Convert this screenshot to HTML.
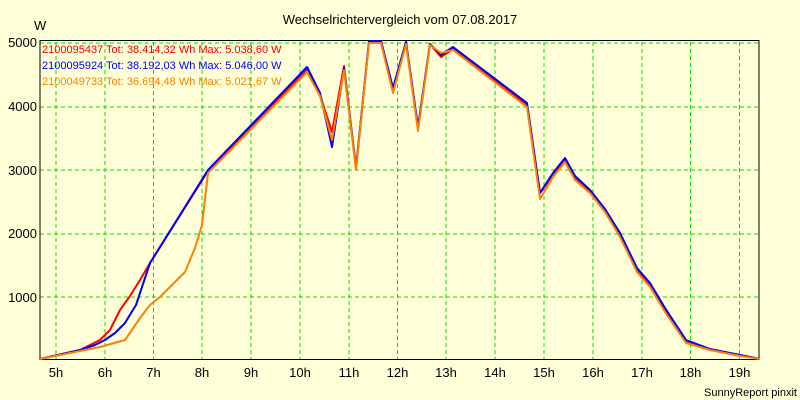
<!DOCTYPE html>
<html><head><meta charset="utf-8"><style>
html,body{margin:0;padding:0;background:#ffffd8;}
svg{display:block;font-family:"Liberation Sans",sans-serif;}
</style></head><body>
<svg width="800" height="400" viewBox="0 0 800 400">
<rect width="800" height="400" fill="#ffffd8"/>
<text x="400" y="24" font-size="13" text-anchor="middle">Wechselrichtervergleich vom 07.08.2017</text>
<text x="34" y="30" font-size="13">W</text>
<g stroke="#00e000" stroke-width="1" stroke-dasharray="4,3">
<line x1="56" y1="42" x2="56" y2="359"/><line x1="105" y1="42" x2="105" y2="359"/><line x1="153.5" y1="42" x2="153.5" y2="359"/><line x1="202" y1="42" x2="202" y2="359"/><line x1="251" y1="42" x2="251" y2="359"/><line x1="300" y1="42" x2="300" y2="359"/><line x1="349" y1="42" x2="349" y2="359"/><line x1="397.5" y1="42" x2="397.5" y2="359"/><line x1="446" y1="42" x2="446" y2="359"/><line x1="495" y1="42" x2="495" y2="359"/><line x1="544" y1="42" x2="544" y2="359"/><line x1="593" y1="42" x2="593" y2="359"/><line x1="642" y1="42" x2="642" y2="359"/><line x1="690.5" y1="42" x2="690.5" y2="359"/><line x1="739.5" y1="42" x2="739.5" y2="359"/>
<line x1="40" y1="43" x2="759" y2="43"/><line x1="40" y1="107" x2="759" y2="107"/><line x1="40" y1="170" x2="759" y2="170"/><line x1="40" y1="234" x2="759" y2="234"/><line x1="40" y1="297" x2="759" y2="297"/>
</g>
<rect x="40" y="40.5" width="719" height="319" fill="none" stroke="#000" stroke-width="1"/>
<g font-size="13" text-anchor="end">
<text x="37" y="47">5000</text><text x="37" y="111">4000</text><text x="37" y="175">3000</text><text x="37" y="238">2000</text><text x="37" y="302">1000</text>
</g>
<g font-size="13" text-anchor="middle">
<text x="56" y="377">5h</text><text x="105" y="377">6h</text><text x="153.5" y="377">7h</text><text x="202" y="377">8h</text><text x="251" y="377">9h</text><text x="300" y="377">10h</text><text x="349" y="377">11h</text><text x="397.5" y="377">12h</text><text x="446" y="377">13h</text><text x="495" y="377">14h</text><text x="544" y="377">15h</text><text x="593" y="377">16h</text><text x="642" y="377">17h</text><text x="690.5" y="377">18h</text><text x="739.5" y="377">19h</text>
</g>
<text x="797" y="396" font-size="11" text-anchor="end">SunnyReport pinxit</text>
<g fill="none" stroke-width="2" stroke-linejoin="round">
<polyline stroke="#ff0000" points="40,359 80,350 100,340 110,330 120,310 130,296 140,280 150,263 208,171 308,69 320,95 332,132 344,66 356,168 369,42 381,42 393,90 406,42 418,128 430,44 441,57 453,49 527,105 540,193 553,175 565,160 575,178 590,192 605,210 620,235 637,270 650,285 665,310 686,342 710,350 740,355 760,359"/>
<polyline stroke="#0000ff" points="40,359 80,350 95,345 105,340 115,333 125,323 136,305 141,290 146,275 150,263 208,170 307,67 320,93 332,147 344,68 356,168 369,41 381,41 393,88 406,42 418,127 430,44 441,55 453,47 527,103 540,193 553,173 565,158 575,176 590,190 605,209 620,233 637,268 650,283 665,308 686,340 710,349 740,355 760,359"/>
<polyline stroke="#ff8000" points="40,359 70,353 100,347 125,340 140,318 150,305 160,297 185,272 195,248 202,225 208,173 307,72 320,96 332,140 344,70 356,170 369,43 381,43 393,93 406,44 418,131 430,45 441,53 453,50 527,107 540,199 553,177 565,162 575,180 590,193 605,212 620,237 637,272 650,287 665,312 686,343 710,350 740,356 760,359"/>
</g>
<g font-size="11">
<text x="42" y="53" fill="#ff0000">2100095437 Tot: 38.414,32 Wh Max: 5.038,60 W</text>
<text x="42" y="69" fill="#0000ff">2100095924 Tot: 38.192,03 Wh Max: 5.046,00 W</text>
<text x="42" y="85" fill="#ff8000">2100049733 Tot: 36.694,48 Wh Max: 5.021,67 W</text>
</g>
</svg>
</body></html>
